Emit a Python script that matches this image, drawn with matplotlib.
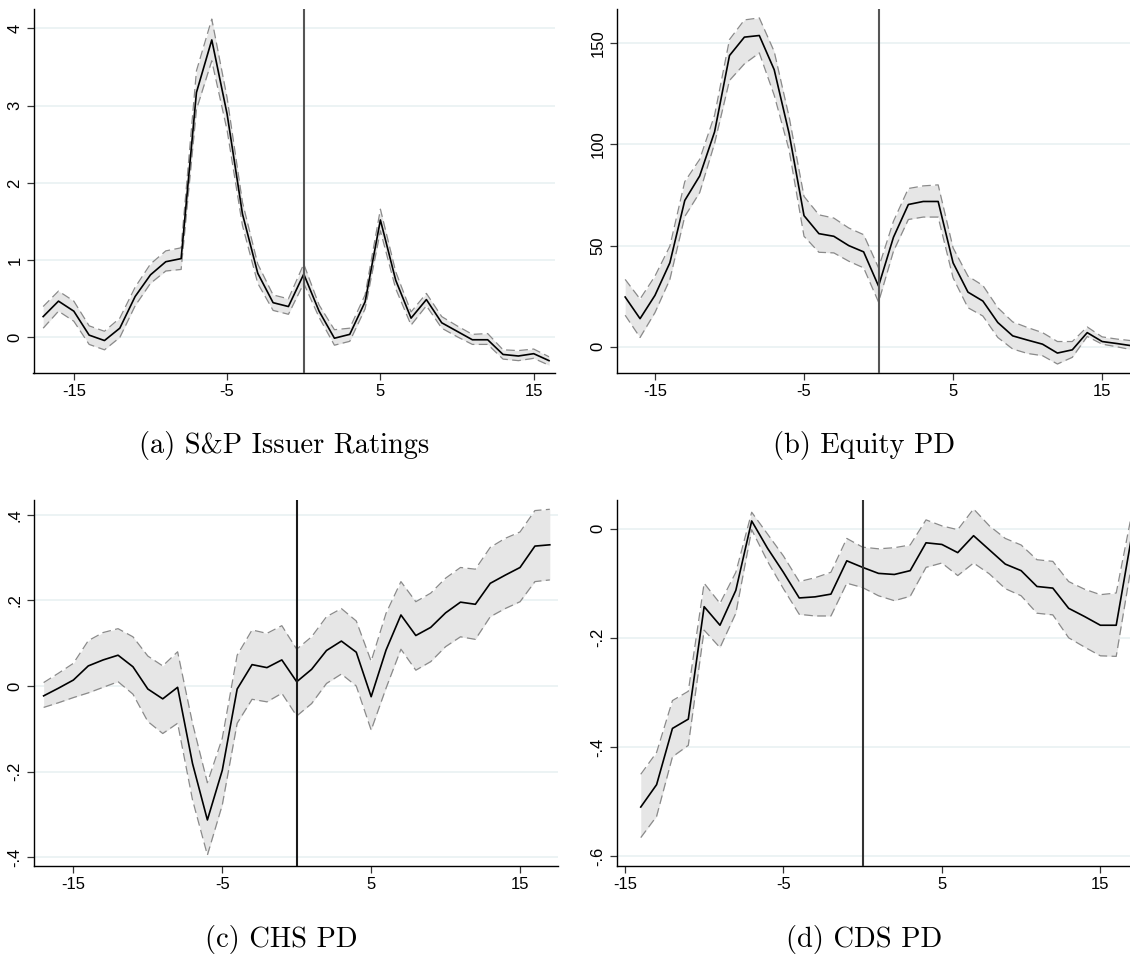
import matplotlib
matplotlib.use("Agg")
import matplotlib.pyplot as plt

plt.rcParams['axes.unicode_minus'] = False

# ---------------- data ----------------
# (a) S&P Issuer Ratings, event time -17..16
a_x = list(range(-17, 17))
a_y = [0.27, 0.47, 0.34, 0.03, -0.04, 0.12, 0.53, 0.81, 0.98, 1.02,
       3.17, 3.85, 2.89, 1.60, 0.83, 0.45, 0.40, 0.82, 0.34, -0.01,
       0.04, 0.46, 1.52, 0.74, 0.25, 0.49, 0.19, 0.08, -0.03, -0.03,
       -0.22, -0.24, -0.21, -0.30]
a_hi = [0.40, 0.60, 0.47, 0.15, 0.08, 0.25, 0.65, 0.95, 1.12, 1.16,
        3.45, 4.12, 3.10, 1.75, 0.95, 0.55, 0.50, 0.95, 0.42, 0.10,
        0.12, 0.55, 1.66, 0.85, 0.33, 0.57, 0.27, 0.15, 0.04, 0.05,
        -0.16, -0.17, -0.15, -0.25]
a_lo = [0.12, 0.34, 0.21, -0.09, -0.16, 0.00, 0.41, 0.70, 0.86, 0.88,
        2.95, 3.58, 2.68, 1.45, 0.70, 0.35, 0.30, 0.70, 0.26, -0.10,
        -0.05, 0.37, 1.38, 0.63, 0.16, 0.41, 0.12, 0.01, -0.09, -0.09,
        -0.28, -0.30, -0.27, -0.36]

# (b) Equity PD, event time -17..17
b_x = list(range(-17, 18))
b_y = [24.6, 13.9, 25.4, 41.5, 72.3, 84.4, 106.2, 143.9, 153.0, 153.8,
       136.9, 105.4, 64.8, 55.9, 54.6, 50.0, 46.9, 30.0, 54.1, 70.3,
       71.8, 71.8, 41.5, 27.0, 22.6, 12.0, 5.4, 3.3, 1.3, -3.1,
       -1.5, 7.0, 2.6, 1.6, 0.5]
b_hi = [33.3, 23.6, 34.9, 49.7, 81.6, 92.6, 114.4, 151.8, 161.5, 162.5,
        145.9, 113.6, 74.3, 65.2, 63.6, 58.7, 55.4, 39.0, 62.0, 78.2,
        79.5, 80.0, 48.9, 34.9, 30.3, 19.3, 12.3, 9.5, 7.0, 2.6,
        2.6, 9.8, 4.9, 3.8, 3.0]
b_lo = [15.6, 4.6, 16.9, 33.3, 64.4, 76.2, 100.5, 131.6, 139.8, 145.2,
        124.3, 97.2, 54.6, 46.7, 46.4, 42.3, 39.0, 22.1, 47.2, 62.9,
        64.1, 64.1, 34.1, 19.3, 15.2, 4.6, -1.1, -3.3, -4.4, -8.5,
        -5.2, 5.1, 1.3, 0.0, -1.5]

# (c) CHS PD, event time -17..17
c_x = list(range(-17, 18))
c_y = [-0.023, -0.005, 0.014, 0.047, 0.061, 0.072, 0.045, -0.007, -0.030, -0.003,
       -0.181, -0.313, -0.197, -0.007, 0.050, 0.043, 0.061, 0.010, 0.039, 0.083,
       0.105, 0.079, -0.025, 0.084, 0.166, 0.118, 0.137, 0.171, 0.196, 0.191,
       0.240, 0.259, 0.277, 0.327, 0.330]
c_hi = [0.008, 0.030, 0.053, 0.106, 0.125, 0.134, 0.115, 0.070, 0.047, 0.080,
        -0.087, -0.226, -0.122, 0.072, 0.131, 0.123, 0.141, 0.086, 0.115, 0.162,
        0.181, 0.152, 0.058, 0.170, 0.244, 0.197, 0.217, 0.252, 0.277, 0.273,
        0.324, 0.345, 0.360, 0.410, 0.413]
c_lo = [-0.050, -0.039, -0.027, -0.016, -0.003, 0.010, -0.019, -0.083, -0.111, -0.087,
        -0.266, -0.395, -0.278, -0.087, -0.031, -0.037, -0.017, -0.070, -0.041, 0.006,
        0.028, 0.000, -0.103, -0.005, 0.086, 0.037, 0.057, 0.092, 0.115, 0.109,
        0.162, 0.181, 0.197, 0.244, 0.248]

# (d) CDS PD, event time -14..17
d_x = list(range(-14, 18))
d_y = [-0.510, -0.469, -0.366, -0.349, -0.143, -0.177, -0.113, 0.014, -0.036, -0.080,
       -0.127, -0.125, -0.120, -0.059, -0.071, -0.082, -0.084, -0.077, -0.026, -0.029,
       -0.044, -0.013, -0.039, -0.065, -0.077, -0.106, -0.109, -0.146, -0.161, -0.177,
       -0.177, -0.010]
d_hi = [-0.450, -0.410, -0.315, -0.298, -0.100, -0.137, -0.080, 0.030, -0.010, -0.050,
        -0.097, -0.090, -0.080, -0.018, -0.034, -0.037, -0.035, -0.030, 0.016, 0.005,
        -0.002, 0.036, 0.005, -0.018, -0.030, -0.057, -0.060, -0.097, -0.111, -0.121,
        -0.118, 0.030]
d_lo = [-0.566, -0.527, -0.418, -0.397, -0.186, -0.218, -0.155, -0.002, -0.060, -0.110,
        -0.157, -0.160, -0.160, -0.100, -0.108, -0.123, -0.132, -0.124, -0.071, -0.063,
        -0.086, -0.063, -0.083, -0.110, -0.123, -0.155, -0.158, -0.200, -0.217, -0.233,
        -0.234, -0.060]

captions = ["(a) S&P Issuer Ratings", "(b) Equity PD", "(c) CHS PD", "(d) CDS PD"]
xtick_vals = [-15, -5, 5, 15]
a_yticks = [0, 1, 2, 3, 4]
a_ylabels = ["0", "1", "2", "3", "4"]
b_yticks = [0, 50, 100, 150]
b_ylabels = ["0", "50", "100", "150"]
c_yticks = [-0.4, -0.2, 0.0, 0.2, 0.4]
c_ylabels = ["-.4", "-.2", "0", ".2", ".4"]
d_yticks = [-0.6, -0.4, -0.2, 0.0]
d_ylabels = ["-.6", "-.4", "-.2", "0"]

# ---------------- figure ----------------
W, H = 1130, 957
fig = plt.figure(figsize=(W / 100, H / 100), dpi=100)


def add_ax(left, right, top, bottom):
    return fig.add_axes([left / W, 1 - bottom / H, (right - left) / W, (bottom - top) / H])


panels = [
    dict(rect=(33.5, 555, 9, 373), x=a_x, y=a_y, hi=a_hi, lo=a_lo,
         xlim=(-17.63, 16.39), ylim=(-0.46, 4.25), yt=a_yticks, yl=a_ylabels,
         cap=captions[0], capxy=(284, 445), vcol="#555555"),
    dict(rect=(616.5, 1130, 9, 373), x=b_x, y=b_y, hi=b_hi, lo=b_lo,
         xlim=(-17.58, 16.87), ylim=(-12.95, 166.9), yt=b_yticks, yl=b_ylabels,
         cap=captions[1], capxy=(864, 445), vcol="#555555"),
    dict(rect=(33.5, 558, 500, 866), x=c_x, y=c_y, hi=c_hi, lo=c_lo,
         xlim=(-17.68, 17.55), ylim=(-0.4206, 0.4347), yt=c_yticks, yl=c_ylabels,
         cap=captions[2], capxy=(281, 939), vcol="#1A1A1A"),
    dict(rect=(616.5, 1130, 500, 866), x=d_x, y=d_y, hi=d_hi, lo=d_lo,
         xlim=(-15.53, 16.87), ylim=(-0.618, 0.0524), yt=d_yticks, yl=d_ylabels,
         cap=captions[3], capxy=(864, 939), vcol="#333333"),
]

for p in panels:
    ax = add_ax(*p["rect"])
    ax.set_xlim(*p["xlim"])
    ax.set_ylim(*p["ylim"])
    for yv in p["yt"]:
        ax.axhline(yv, color="#EAF2F3", lw=1.3, zorder=0)
    ax.fill_between(p["x"], p["lo"], p["hi"], color="#E6E6E6", lw=0, zorder=1)
    ax.plot(p["x"], p["hi"], color="#8A8A8A", lw=0.9, dashes=(7, 3.5), zorder=2)
    ax.plot(p["x"], p["lo"], color="#8A8A8A", lw=0.9, dashes=(7, 3.5), zorder=2)
    ax.plot(p["x"], p["y"], color="black", lw=1.2, zorder=3)
    ax.axvline(0, color=p["vcol"], lw=1.5, zorder=4)

    ax.set_xticks(xtick_vals)
    ax.set_xticklabels([str(v) for v in xtick_vals])
    ax.set_yticks(p["yt"])
    ax.set_yticklabels(p["yl"], rotation=90, va="center")
    ax.tick_params(axis="both", direction="out", length=5, width=0.9,
                   color="#333333", labelsize=12, pad=3)
    for lab in ax.get_xticklabels() + ax.get_yticklabels():
        lab.set_fontfamily("Liberation Sans")
    for side in ("top", "right"):
        ax.spines[side].set_visible(False)
    for side in ("left", "bottom"):
        ax.spines[side].set_linewidth(1.0)
        ax.spines[side].set_color("black")
    ax.set_facecolor("none")

    cx, cy = p["capxy"]
    fig.text(cx / W, 1 - cy / H, p["cap"], ha="center", va="center",
             fontfamily="cmr10", fontsize=20.5)

fig.savefig("out.png", dpi=100, facecolor="white")
